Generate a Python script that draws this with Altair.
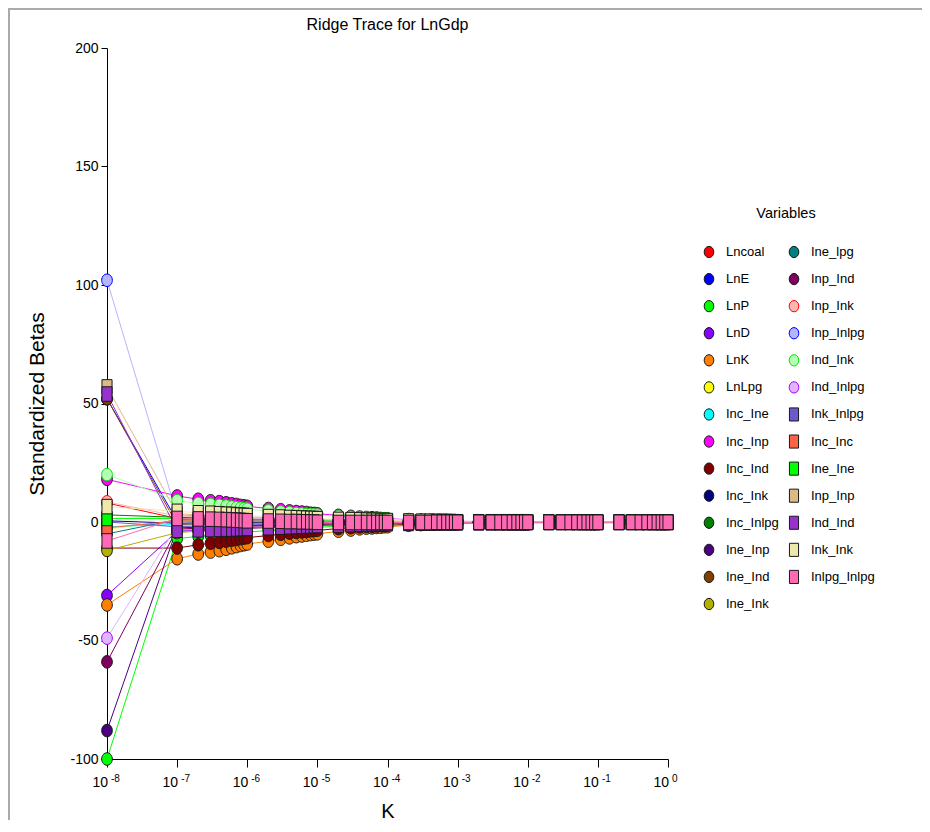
import altair as alt
import pandas as pd

# ---------------- data ----------------
K = [1e-8,
     1e-7, 2e-7, 3e-7, 4e-7, 5e-7, 6e-7, 7e-7, 8e-7, 9e-7,
     1e-6, 2e-6, 3e-6, 4e-6, 5e-6, 6e-6, 7e-6, 8e-6, 9e-6,
     1e-5, 2e-5, 3e-5, 4e-5, 5e-5, 6e-5, 7e-5, 8e-5, 9e-5,
     1e-4, 2e-4, 3e-4, 4e-4, 5e-4, 6e-4, 7e-4, 8e-4, 9e-4,
     1e-3, 2e-3, 3e-3, 4e-3, 5e-3, 6e-3, 7e-3, 8e-3, 9e-3,
     1e-2, 2e-2, 3e-2, 4e-2, 5e-2, 6e-2, 7e-2, 8e-2, 9e-2,
     1e-1, 2e-1, 3e-1, 4e-1, 5e-1, 6e-1, 7e-1, 8e-1, 9e-1,
     1.0]

lncoal = [8.0,
    1.5, 1.3, 1.2, 1.2, 1.1, 1.1, 1.0, 1.0, 0.9,
    0.9, 0.8, 0.7, 0.6, 0.6, 0.6, 0.5, 0.5, 0.5,
    0.5, 0.4, 0.3, 0.3, 0.3, 0.2, 0.2, 0.2, 0.2,
    0.2, 0.1, 0.1, 0.1, 0.1, 0.1, 0.1, 0.1, 0.1,
    0.1, 0, 0, 0, 0, 0, 0, 0, 0,
    0, 0, 0, 0, 0, 0, 0, 0, 0,
    0, 0, 0, 0, 0, 0, 0, 0, 0,
    0]
lne = [52.0,
    0.5, 0.4, 0.4, 0.4, 0.4, 0.3, 0.3, 0.3, 0.3,
    0.3, 0.3, 0.2, 0.2, 0.2, 0.2, 0.2, 0.2, 0.2,
    0.2, 0.1, 0.1, 0.1, 0.1, 0.1, 0.1, 0.1, 0.1,
    0.1, 0, 0, 0, 0, 0, 0, 0, 0,
    0, 0, 0, 0, 0, 0, 0, 0, 0,
    0, 0, 0, 0, 0, 0, 0, 0, 0,
    0, 0, 0, 0, 0, 0, 0, 0, 0,
    0]
lnp = [-100.0,
    -7.0, -6.1, -5.7, -5.5, -5.2, -4.9, -4.7, -4.5, -4.3,
    -4.2, -3.6, -3.3, -3.0, -2.8, -2.7, -2.5, -2.4, -2.3,
    -2.2, -1.8, -1.5, -1.3, -1.2, -1.1, -1.1, -1.0, -0.9,
    -0.9, -0.6, -0.5, -0.4, -0.4, -0.3, -0.3, -0.2, -0.2,
    -0.2, -0.1, -0.1, -0.1, -0.1, -0.1, -0.1, -0.1, -0.1,
    0, 0, 0, 0, 0, 0, 0, 0, 0,
    0, 0, 0, 0, 0, 0, 0, 0, 0,
    0]
lnd = [-31.0,
    -4.0, -3.5, -3.3, -3.1, -3.0, -2.8, -2.7, -2.6, -2.5,
    -2.4, -2.1, -1.9, -1.7, -1.6, -1.5, -1.4, -1.4, -1.3,
    -1.3, -1.0, -0.9, -0.8, -0.7, -0.6, -0.6, -0.6, -0.5,
    -0.5, -0.4, -0.3, -0.2, -0.2, -0.2, -0.2, -0.1, -0.1,
    -0.1, -0.1, -0.1, -0.1, -0.1, -0.1, -0.1, -0.1, -0.1,
    0, 0, 0, 0, 0, 0, 0, 0, 0,
    0, 0, 0, 0, 0, 0, 0, 0, 0,
    0]
lnk = [-35.0,
    -15.5, -13.5, -12.7, -12.1, -11.5, -10.9, -10.4, -9.9, -9.6,
    -9.3, -8.1, -7.3, -6.7, -6.2, -5.9, -5.6, -5.3, -5.1,
    -5.0, -3.9, -3.4, -2.9, -2.6, -2.5, -2.3, -2.2, -2.0,
    -2.0, -1.4, -1.1, -0.9, -0.8, -0.7, -0.6, -0.5, -0.5,
    -0.5, -0.3, -0.3, -0.2, -0.2, -0.2, -0.2, -0.2, -0.2,
    -0.1, -0.1, -0.1, -0.1, -0.1, -0.1, -0.1, -0.1, -0.1,
    -0.1, -0.1, -0.1, 0, 0, 0, 0, 0, 0,
    0]
lnlpg = [-3.0,
    0.8, 0.7, 0.7, 0.6, 0.6, 0.6, 0.5, 0.5, 0.5,
    0.5, 0.4, 0.4, 0.3, 0.3, 0.3, 0.3, 0.3, 0.3,
    0.3, 0.2, 0.2, 0.2, 0.2, 0.2, 0.2, 0.2, 0.2,
    0.1, 0.1, 0.1, 0.1, 0.1, 0.1, 0.1, 0.1, 0.1,
    0, 0, 0, 0, 0, 0, 0, 0, 0,
    0, 0, 0, 0, 0, 0, 0, 0, 0,
    0, 0, 0, 0, 0, 0, 0, 0, 0,
    0]
inc_ine = [-2.0,
    -1.0, -0.9, -0.8, -0.8, -0.7, -0.7, -0.7, -0.6, -0.6,
    -0.6, -0.5, -0.5, -0.4, -0.4, -0.4, -0.4, -0.3, -0.3,
    -0.3, -0.3, -0.2, -0.2, -0.2, -0.2, -0.2, -0.1, -0.1,
    -0.1, -0.1, -0.1, -0.1, -0.1, -0.1, -0.1, -0.1, -0.1,
    0, 0, 0, 0, 0, 0, 0, 0, 0,
    0, 0, 0, 0, 0, 0, 0, 0, 0,
    0, 0, 0, 0, 0, 0, 0, 0, 0,
    0]
inc_inp = [18.0,
    11.0, 9.6, 9.0, 8.6, 8.1, 7.7, 7.4, 7.0, 6.8,
    6.6, 5.7, 5.2, 4.7, 4.4, 4.2, 4.0, 3.7, 3.6,
    3.5, 2.8, 2.4, 2.1, 1.9, 1.8, 1.7, 1.5, 1.4,
    1.4, 1.0, 0.8, 0.7, 0.6, 0.5, 0.4, 0.4, 0.3,
    0.3, 0.2, 0.2, 0.2, 0.1, 0.1, 0.1, 0.1, 0.1,
    0.1, 0.1, 0, 0, 0, 0, 0, 0, 0,
    0, 0, 0, 0, 0, 0, 0, 0, 0,
    0]
inc_ind = [-11.0,
    -11.0, -9.6, -9.0, -8.6, -8.1, -7.7, -7.4, -7.0, -6.8,
    -6.6, -5.7, -5.2, -4.7, -4.4, -4.2, -4.0, -3.7, -3.6,
    -3.5, -2.8, -2.4, -2.1, -1.9, -1.8, -1.7, -1.5, -1.4,
    -1.4, -1.0, -0.8, -0.7, -0.6, -0.5, -0.4, -0.4, -0.3,
    -0.3, -0.2, -0.2, -0.2, -0.1, -0.1, -0.1, -0.1, -0.1,
    -0.1, -0.1, 0, 0, 0, 0, 0, 0, 0,
    0, 0, 0, 0, 0, 0, 0, 0, 0,
    0]
inc_ink = [0.5,
    -0.5, -0.4, -0.4, -0.4, -0.4, -0.3, -0.3, -0.3, -0.3,
    -0.3, -0.3, -0.2, -0.2, -0.2, -0.2, -0.2, -0.2, -0.2,
    -0.2, -0.1, -0.1, -0.1, -0.1, -0.1, -0.1, -0.1, -0.1,
    -0.1, 0, 0, 0, 0, 0, 0, 0, 0,
    0, 0, 0, 0, 0, 0, 0, 0, 0,
    0, 0, 0, 0, 0, 0, 0, 0, 0,
    0, 0, 0, 0, 0, 0, 0, 0, 0,
    0]
inc_inlpg = [3.0,
    2.0, 1.7, 1.6, 1.6, 1.5, 1.4, 1.3, 1.3, 1.2,
    1.2, 1.0, 0.9, 0.9, 0.8, 0.8, 0.7, 0.7, 0.7,
    0.6, 0.5, 0.4, 0.4, 0.3, 0.3, 0.3, 0.3, 0.3,
    0.3, 0.2, 0.1, 0.1, 0.1, 0.1, 0.1, 0.1, 0.1,
    0, 0, 0, 0, 0, 0, 0, 0, 0,
    0, 0, 0, 0, 0, 0, 0, 0, 0,
    0, 0, 0, 0, 0, 0, 0, 0, 0,
    0]
ine_inp = [-88.0,
    -2.5, -2.2, -2.1, -2.0, -1.9, -1.8, -1.7, -1.6, -1.6,
    -1.5, -1.3, -1.2, -1.1, -1.0, -1.0, -0.9, -0.9, -0.8,
    -0.8, -0.6, -0.6, -0.5, -0.4, -0.4, -0.4, -0.4, -0.3,
    -0.3, -0.2, -0.2, -0.2, -0.1, -0.1, -0.1, -0.1, -0.1,
    0, 0, 0, 0, 0, 0, 0, 0, 0,
    0, 0, 0, 0, 0, 0, 0, 0, 0,
    0, 0, 0, 0, 0, 0, 0, 0, 0,
    0]
ine_ind = [52.0,
    -1.0, -0.9, -0.8, -0.8, -0.7, -0.7, -0.7, -0.6, -0.6,
    -0.6, -0.5, -0.5, -0.4, -0.4, -0.4, -0.4, -0.3, -0.3,
    -0.3, -0.3, -0.2, -0.2, -0.2, -0.2, -0.2, -0.1, -0.1,
    -0.1, -0.1, -0.1, -0.1, -0.1, -0.1, -0.1, -0.1, -0.1,
    0, 0, 0, 0, 0, 0, 0, 0, 0,
    0, 0, 0, 0, 0, 0, 0, 0, 0,
    0, 0, 0, 0, 0, 0, 0, 0, 0,
    0]
ine_ink = [-12.0,
    -4.5, -3.9, -3.7, -3.5, -3.3, -3.2, -3.0, -2.9, -2.8,
    -2.7, -2.3, -2.1, -1.9, -1.8, -1.7, -1.6, -1.5, -1.5,
    -1.4, -1.1, -1.0, -0.9, -0.8, -0.7, -0.7, -0.6, -0.6,
    -0.6, -0.4, -0.3, -0.3, -0.2, -0.2, -0.2, -0.2, -0.1,
    -0.1, -0.1, -0.1, -0.1, -0.1, -0.1, -0.1, -0.1, -0.1,
    0, 0, 0, 0, 0, 0, 0, 0, 0,
    0, 0, 0, 0, 0, 0, 0, 0, 0,
    0]
ine_lpg = [-5.0,
    1.0, 0.9, 0.8, 0.8, 0.7, 0.7, 0.7, 0.6, 0.6,
    0.6, 0.5, 0.5, 0.4, 0.4, 0.4, 0.4, 0.3, 0.3,
    0.3, 0.3, 0.2, 0.2, 0.2, 0.2, 0.2, 0.1, 0.1,
    0.1, 0.1, 0.1, 0.1, 0.1, 0.1, 0.1, 0.1, 0.1,
    0, 0, 0, 0, 0, 0, 0, 0, 0,
    0, 0, 0, 0, 0, 0, 0, 0, 0,
    0, 0, 0, 0, 0, 0, 0, 0, 0,
    0]
inp_ind = [-59.0,
    -3.0, -2.6, -2.5, -2.3, -2.2, -2.1, -2.0, -1.9, -1.9,
    -1.8, -1.6, -1.4, -1.3, -1.2, -1.1, -1.1, -1.0, -1.0,
    -1.0, -0.8, -0.7, -0.6, -0.5, -0.5, -0.5, -0.4, -0.4,
    -0.4, -0.3, -0.2, -0.2, -0.2, -0.1, -0.1, -0.1, -0.1,
    -0.1, 0, 0, 0, 0, 0, 0, 0, 0,
    0, 0, 0, 0, 0, 0, 0, 0, 0,
    0, 0, 0, 0, 0, 0, 0, 0, 0,
    0]
inp_ink = [8.5,
    2.5, 2.2, 2.1, 2.0, 1.9, 1.8, 1.7, 1.6, 1.6,
    1.5, 1.3, 1.2, 1.1, 1.0, 1.0, 0.9, 0.9, 0.8,
    0.8, 0.6, 0.6, 0.5, 0.4, 0.4, 0.4, 0.4, 0.3,
    0.3, 0.2, 0.2, 0.2, 0.1, 0.1, 0.1, 0.1, 0.1,
    0, 0, 0, 0, 0, 0, 0, 0, 0,
    0, 0, 0, 0, 0, 0, 0, 0, 0,
    0, 0, 0, 0, 0, 0, 0, 0, 0,
    0]
inp_inlpg = [102.0,
    3.0, 2.6, 2.5, 2.3, 2.2, 2.1, 2.0, 1.9, 1.9,
    1.8, 1.6, 1.4, 1.3, 1.2, 1.1, 1.1, 1.0, 1.0,
    1.0, 0.8, 0.7, 0.6, 0.5, 0.5, 0.5, 0.4, 0.4,
    0.4, 0.3, 0.2, 0.2, 0.2, 0.1, 0.1, 0.1, 0.1,
    0.1, 0, 0, 0, 0, 0, 0, 0, 0,
    0, 0, 0, 0, 0, 0, 0, 0, 0,
    0, 0, 0, 0, 0, 0, 0, 0, 0,
    0]
ind_ink = [20.0,
    9.0, 7.8, 7.4, 7.0, 6.7, 6.3, 6.0, 5.8, 5.6,
    5.4, 4.7, 4.2, 3.9, 3.6, 3.4, 3.2, 3.1, 3.0,
    2.9, 2.3, 2.0, 1.7, 1.5, 1.4, 1.4, 1.3, 1.2,
    1.2, 0.8, 0.6, 0.5, 0.5, 0.4, 0.4, 0.3, 0.3,
    0.3, 0.2, 0.2, 0.1, 0.1, 0.1, 0.1, 0.1, 0.1,
    0.1, 0, 0, 0, 0, 0, 0, 0, 0,
    0, 0, 0, 0, 0, 0, 0, 0, 0,
    0]
ind_inlpg = [-49.0,
    -1.5, -1.3, -1.2, -1.2, -1.1, -1.1, -1.0, -1.0, -0.9,
    -0.9, -0.8, -0.7, -0.6, -0.6, -0.6, -0.5, -0.5, -0.5,
    -0.5, -0.4, -0.3, -0.3, -0.3, -0.2, -0.2, -0.2, -0.2,
    -0.2, -0.1, -0.1, -0.1, -0.1, -0.1, -0.1, -0.1, -0.1,
    0, 0, 0, 0, 0, 0, 0, 0, 0,
    0, 0, 0, 0, 0, 0, 0, 0, 0,
    0, 0, 0, 0, 0, 0, 0, 0, 0,
    0]
ink_inlpg = [0.0,
    -2.0, -1.7, -1.6, -1.6, -1.5, -1.4, -1.3, -1.3, -1.2,
    -1.2, -1.0, -0.9, -0.9, -0.8, -0.8, -0.7, -0.7, -0.7,
    -0.6, -0.5, -0.4, -0.4, -0.3, -0.3, -0.3, -0.3, -0.3,
    -0.3, -0.2, -0.2, -0.2, -0.1, -0.1, -0.1, -0.1, -0.1,
    -0.1, -0.1, -0.1, -0.1, -0.1, -0.1, -0.1, -0.1, -0.1,
    0, 0, 0, 0, 0, 0, 0, 0, 0,
    0, 0, 0, 0, 0, 0, 0, 0, 0,
    0]
inc_inc = [-2.5,
    0.5, 0.4, 0.4, 0.4, 0.4, 0.3, 0.3, 0.3, 0.3,
    0.3, 0.3, 0.2, 0.2, 0.2, 0.2, 0.2, 0.2, 0.2,
    0.2, 0.1, 0.1, 0.1, 0.1, 0.1, 0.1, 0.1, 0.1,
    0.1, 0, 0, 0, 0, 0, 0, 0, 0,
    0, 0, 0, 0, 0, 0, 0, 0, 0,
    0, 0, 0, 0, 0, 0, 0, 0, 0,
    0, 0, 0, 0, 0, 0, 0, 0, 0,
    0]
ine_ine = [1.5,
    1.5, 1.3, 1.2, 1.2, 1.1, 1.1, 1.0, 1.0, 0.9,
    0.9, 0.8, 0.7, 0.6, 0.6, 0.6, 0.5, 0.5, 0.5,
    0.5, 0.4, 0.3, 0.3, 0.3, 0.2, 0.2, 0.2, 0.2,
    0.2, 0.1, 0.1, 0.1, 0.1, 0.1, 0.1, 0.1, 0.1,
    0.1, 0, 0, 0, 0, 0, 0, 0, 0,
    0, 0, 0, 0, 0, 0, 0, 0, 0,
    0, 0, 0, 0, 0, 0, 0, 0, 0,
    0]
inp_inp = [57.0,
    3.5, 3.0, 2.9, 2.7, 2.6, 2.5, 2.3, 2.2, 2.2,
    2.1, 1.8, 1.6, 1.5, 1.4, 1.3, 1.3, 1.2, 1.2,
    1.1, 0.9, 0.8, 0.7, 0.6, 0.6, 0.5, 0.5, 0.5,
    0.5, 0.3, 0.2, 0.2, 0.2, 0.2, 0.1, 0.1, 0.1,
    0.1, 0.1, 0.1, 0.1, 0.1, 0.1, 0.1, 0.1, 0.1,
    0, 0, 0, 0, 0, 0, 0, 0, 0,
    0, 0, 0, 0, 0, 0, 0, 0, 0,
    0]
ind_ind = [54.0,
    -3.5, -3.3, -3.2, -3.1, -3.0, -3.0, -2.9, -2.8, -2.8,
    -2.7, -2.4, -2.2, -2.0, -1.9, -1.8, -1.7, -1.7, -1.6,
    -1.5, -1.3, -1.1, -1.0, -0.9, -0.9, -0.8, -0.8, -0.7,
    -0.7, -0.6, -0.5, -0.5, -0.5, -0.4, -0.4, -0.4, -0.4,
    -0.4, -0.4, -0.4, -0.4, -0.4, -0.4, -0.4, -0.4, -0.4,
    -0.3, -0.3, -0.3, -0.3, -0.3, -0.3, -0.3, -0.3, -0.3,
    -0.3, -0.3, -0.3, -0.3, -0.3, -0.3, -0.3, -0.3, -0.3,
    -0.3]
ink_ink = [6.5,
    4.5, 3.9, 3.7, 3.5, 3.3, 3.2, 3.0, 2.9, 2.8,
    2.7, 2.3, 2.1, 1.9, 1.8, 1.7, 1.6, 1.5, 1.5,
    1.4, 1.1, 1.0, 0.9, 0.8, 0.7, 0.7, 0.6, 0.6,
    0.6, 0.4, 0.3, 0.3, 0.2, 0.2, 0.2, 0.2, 0.1,
    0.1, 0.1, 0.1, 0.1, 0.1, 0.1, 0.1, 0.1, 0.1,
    0, 0, 0, 0, 0, 0, 0, 0, 0,
    0, 0, 0, 0, 0, 0, 0, 0, 0,
    0]
inlpg_inlpg = [-8.0,
    1.5, 1.3, 1.2, 1.1, 1.0, 0.9, 0.8, 0.7, 0.6,
    0.5, 0.4, 0.3, 0.2, 0.2, 0.1, 0.1, 0.0, 0.0,
    -0.1, -0.2, -0.2, -0.2, -0.2, -0.2, -0.2, -0.2, -0.2,
    -0.2, -0.2, -0.2, -0.2, -0.1, -0.1, -0.1, -0.1, -0.1,
    -0.1, -0.1, -0.1, -0.1, -0.1, -0.1, -0.1, -0.1, -0.1,
    -0.1, -0.1, -0.1, -0.1, -0.1, -0.1, -0.1, -0.1, -0.1,
    -0.1, -0.1, -0.1, -0.1, -0.1, -0.1, -0.1, -0.1, -0.1,
    -0.1]

variables = ["Lncoal", "LnE", "LnP", "LnD", "LnK", "LnLpg", "Inc_Ine", "Inc_Inp",
             "Inc_Ind", "Inc_Ink", "Inc_Inlpg", "Ine_Inp", "Ine_Ind", "Ine_Ink",
             "Ine_lpg", "Inp_Ind", "Inp_Ink", "Inp_Inlpg", "Ind_Ink", "Ind_Inlpg",
             "Ink_Inlpg", "Inc_Inc", "Ine_Ine", "Inp_Inp", "Ind_Ind", "Ink_Ink",
             "Inlpg_Inlpg"]
series = [lncoal, lne, lnp, lnd, lnk, lnlpg, inc_ine, inc_inp, inc_ind, inc_ink,
          inc_inlpg, ine_inp, ine_ind, ine_ink, ine_lpg, inp_ind, inp_ink, inp_inlpg,
          ind_ink, ind_inlpg, ink_inlpg, inc_inc, ine_ine, inp_inp, ind_ind, ink_ink,
          inlpg_inlpg]
fill_colors = ["#FF0000", "#0000FF", "#00FF00", "#8800FF", "#FF8000", "#FFFF00",
               "#00FFFF", "#FF00FF", "#800000", "#000080", "#008000", "#4B0082",
               "#804000", "#B3B000", "#008080", "#800060", "#FFB4B4", "#B4B4FF",
               "#B4FFB4", "#E0B4FF", "#6A5ACD", "#FF6347", "#00FF00", "#DEB887",
               "#9932CC", "#EEE8AA", "#FF69B4"]
edge_colors = ["#1a1a1a"] * 16 + ["#FF0000", "#0000FF", "#00E000", "#A000FF"] + ["#1a1a1a"] * 7
ELLIPSE = "M-0.7,0A0.7,0.82 0 1,0 0.7,0A0.7,0.82 0 1,0 -0.7,0Z"
RECT = "M-0.66,-0.95H0.66V0.95H-0.66Z"
shapes = [ELLIPSE] * 20 + [RECT] * 7

tick_k = [1e-8, 1e-7, 1e-6, 1e-5, 1e-4, 1e-3, 1e-2, 1e-1, 1.0]
tick_exp = ["-8", "-7", "-6", "-5", "-4", "-3", "-2", "-1", "0"]
y_ticks = [-100, -50, 0, 50, 100, 150, 200]

# ---------------- build tables ----------------
rows = []
for name, vals in zip(variables, series):
    assert len(vals) == len(K), (name, len(vals))
    for k, v in zip(K, vals):
        rows.append({"K": k, "beta": float(v), "variable": name})
df = pd.DataFrame(rows)
ticks_df = pd.DataFrame({"K": tick_k, "exp": tick_exp})

# legend entries: first 14 variables in column 0, the rest in column 1
leg_df = pd.DataFrame({
    "variable": variables,
    "lcol": [0 if i < 14 else 1 for i in range(len(variables))],
    "lrow": [i if i < 14 else i - 14 for i in range(len(variables))],
})

FONT = "Liberation Sans"
W, H = 561, 711

xscale = alt.Scale(type="log", domain=[1e-8, 1], nice=False)
yscale = alt.Scale(domain=[-100, 200], nice=False, zero=False)
fill_scale = alt.Scale(domain=variables, range=fill_colors)
edge_scale = alt.Scale(domain=variables, range=edge_colors)
shape_scale = alt.Scale(domain=variables, range=shapes)

x_enc = alt.X("K:Q", scale=xscale,
              axis=alt.Axis(values=tick_k, labels=False, tickSize=8, title="K",
                            titleFontSize=20, titleFont=FONT, titleFontWeight="normal",
                            titleColor="black", titleX=W / 2, titleY=52,
                            titleBaseline="middle", titleAlign="center"))
y_enc = alt.Y("beta:Q", scale=yscale,
              axis=alt.Axis(values=y_ticks, tickSize=6, labelPadding=3, labelFontSize=14,
                            labelFont=FONT, labelColor="black",
                            labelExpr="'' + datum.value",
                            title="Standardized Betas", titleFontSize=21, titleFont=FONT,
                            titleFontWeight="normal", titleColor="black",
                            titleAngle=270, titleX=-70, titleY=H / 2,
                            titleBaseline="middle", titleAlign="center"))

lines = alt.Chart(df).mark_line(strokeWidth=1).encode(
    x=x_enc, y=y_enc,
    color=alt.Color("variable:N", scale=alt.Scale(domain=variables, range=fill_colors),
                    legend=None),
)

points = alt.Chart(df).mark_point(filled=True, opacity=1, size=234, strokeWidth=1).encode(
    x=alt.X("K:Q", scale=xscale, axis=None),
    y=alt.Y("beta:Q", scale=yscale, axis=None),
    fill=alt.Fill("variable:N", scale=fill_scale, legend=None),
    shape=alt.Shape("variable:N", scale=shape_scale, legend=None),
    stroke=alt.Stroke("variable:N", scale=edge_scale, legend=None),
)

tens = alt.Chart(ticks_df).mark_text(font=FONT, fontSize=14, align="right",
                                     baseline="middle", dx=1, color="black").encode(
    x=alt.X("K:Q", scale=xscale, axis=None), y=alt.value(H + 24), text=alt.value("10"))
exps = alt.Chart(ticks_df).mark_text(font=FONT, fontSize=10, align="left",
                                     baseline="middle", dx=4, color="black").encode(
    x=alt.X("K:Q", scale=xscale, axis=None), y=alt.value(H + 20), text="exp:N")

title_df = pd.DataFrame({"t": ["Ridge Trace for LnGdp"]})
title_txt = alt.Chart(title_df).mark_text(font=FONT, fontSize=16, align="center",
                                          baseline="middle", color="black").encode(
    x=alt.value(W / 2), y=alt.value(-23), text="t:N")

# ----- legend (drawn as marks, positioned by their own scales) -----
lx = alt.X("lcol:Q", scale=alt.Scale(domain=[0, 1], range=[602, 687]), axis=None)
ly = alt.Y("lrow:Q", scale=alt.Scale(domain=[0, 13], range=[204, 556]), axis=None)
leg_sym = alt.Chart(leg_df).mark_point(filled=True, opacity=1, size=190, strokeWidth=1).encode(
    x=lx, y=ly,
    fill=alt.Fill("variable:N", scale=fill_scale, legend=None),
    shape=alt.Shape("variable:N", scale=shape_scale, legend=None),
    stroke=alt.Stroke("variable:N", scale=edge_scale, legend=None),
)
leg_lab = alt.Chart(leg_df).mark_text(font=FONT, fontSize=13, align="left",
                                      baseline="middle", dx=17, color="black").encode(
    x=lx, y=ly, text="variable:N")
leg_title_df = pd.DataFrame({"t": ["Variables"]})
leg_title = alt.Chart(leg_title_df).mark_text(font=FONT, fontSize=14.5, align="center",
                                              baseline="middle", color="black").encode(
    x=alt.value(679), y=alt.value(166), text="t:N")

frame_df = pd.DataFrame({"a": [0]})
top_border = alt.Chart(frame_df).mark_rule(color="#aaaaaa", strokeWidth=2).encode(
    x=alt.value(-99), x2=alt.value(820), y=alt.value(-39))
left_border = alt.Chart(frame_df).mark_rule(color="#aaaaaa", strokeWidth=2).encode(
    x=alt.value(-98), y=alt.value(-40), y2=alt.value(780))

chart = alt.layer(lines, points, tens, exps, title_txt, leg_sym, leg_lab, leg_title,
                  top_border, left_border).resolve_scale(
    x="independent", y="independent"
).properties(
    width=W, height=H,
    autosize=alt.AutoSizeParams(type="none"),
    padding={"left": 99, "top": 40, "right": 254, "bottom": 61},
).configure_view(stroke=None).configure_axis(
    grid=False, domainColor="black", tickColor="black", domainWidth=1, tickWidth=1,
)

chart.save("out.html", embed_options={"renderer": "svg", "actions": False})
